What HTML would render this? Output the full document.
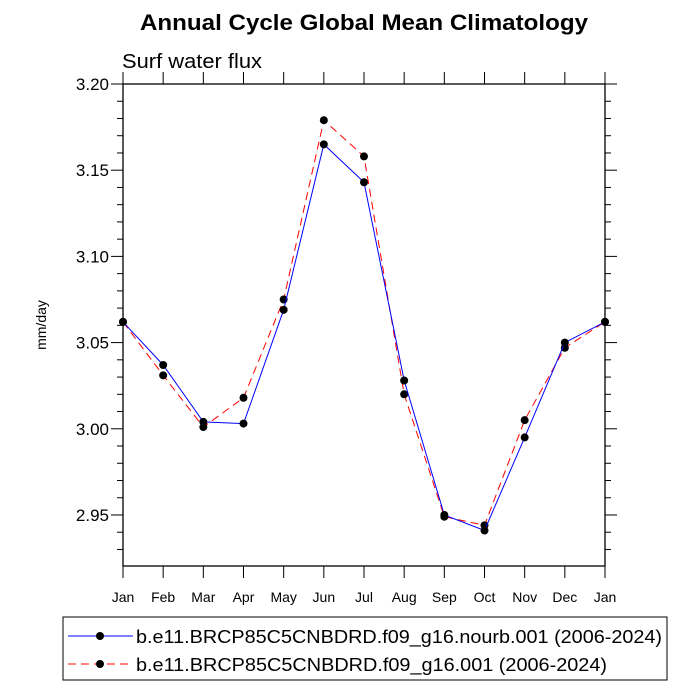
<!DOCTYPE html>
<html><head><meta charset="utf-8"><style>
body{margin:0;background:#fff;}
svg{display:block;font-family:"Liberation Sans",sans-serif;}
</style></head><body>
<svg id="chart" width="700" height="700">
<text x="140" y="30" textLength="448" lengthAdjust="spacingAndGlyphs" font-size="22" font-weight="bold">Annual Cycle Global Mean Climatology</text>
<text x="122" y="68" textLength="140" lengthAdjust="spacingAndGlyphs" font-size="20">Surf water flux</text>
<text transform="translate(46,325) rotate(-90)" text-anchor="middle" font-size="14">mm/day</text>
<g id="axes"></g>
<g id="series"></g>
<rect x="63" y="617" width="604" height="63" fill="none" stroke="#000" stroke-width="1"/>
<g>
<line x1="68" y1="636" x2="133" y2="636" stroke="#00f" stroke-width="1"/>
<circle cx="100" cy="636" r="4" fill="#000"/>
<text x="136" y="643" textLength="526" lengthAdjust="spacingAndGlyphs" font-size="18">b.e11.BRCP85C5CNBDRD.f09_g16.nourb.001 (2006-2024)</text>
</g>
<g>
<line x1="68" y1="664" x2="133" y2="664" stroke="#f00" stroke-width="1" stroke-dasharray="8,5"/>
<circle cx="100" cy="664" r="4" fill="#000"/>
<text x="136" y="671" textLength="471" lengthAdjust="spacingAndGlyphs" font-size="18">b.e11.BRCP85C5CNBDRD.f09_g16.001 (2006-2024)</text>
</g>
</svg>
<script>
const months=["Jan","Feb","Mar","Apr","May","Jun","Jul","Aug","Sep","Oct","Nov","Dec","Jan"];
const nourb=[3.062,3.037,3.004,3.003,3.069,3.165,3.143,3.028,2.950,2.941,2.995,3.050,3.062];
const control=[3.062,3.031,3.001,3.018,3.075,3.179,3.158,3.020,2.949,2.944,3.005,3.047,3.062];
const yTicks=[2.95,3.00,3.05,3.10,3.15,3.20];
const yTickLabels=["2.95","3.00","3.05","3.10","3.15","3.20"];
const NS="http://www.w3.org/2000/svg";
const L=123,R=605,T=84,B=566,yMin=2.9204,yMax=3.20;
const xs=i=>L+(R-L)*i/(months.length-1);
const ys=v=>B-(v-yMin)/(yMax-yMin)*(B-T);
function mk(tag,attrs,parent){const e=document.createElementNS(NS,tag);for(const k in attrs)e.setAttribute(k,attrs[k]);parent.appendChild(e);return e;}
const ax=document.getElementById('axes');
const frame=mk('rect',{x:L,y:T,width:R-L,height:B-T,fill:'none',stroke:'#000','stroke-width':1.3},ax);


months.forEach((m,i)=>{
 const x=xs(i);
 mk('line',{x1:x,y1:B,x2:x,y2:B+12,stroke:'#000'},ax);
 mk('line',{x1:x,y1:T,x2:x,y2:T-12,stroke:'#000'},ax);
 const t=mk('text',{x:x,y:B+36,'text-anchor':'middle','font-size':14},ax);
 t.textContent=m;
 
 
});
for(let v=2.93;v<=3.2001;v+=0.01){
 const y=ys(v);const major=Math.abs(Math.round(v*100)%5)===0;
 const len=major?12:6;
 mk('line',{x1:L,y1:y,x2:L-len,y2:y,stroke:'#000'},ax);
 mk('line',{x1:R,y1:y,x2:R+len,y2:y,stroke:'#000'},ax);
}
yTicks.forEach((v,i)=>{
 const t=mk('text',{x:L-14,y:ys(v)+6,'text-anchor':'end','font-size':17},ax);
 t.textContent=yTickLabels[i];
 
 
});
const sg=document.getElementById('series');
function draw(data,color,dash,name){
 const g=mk('g',{},sg);
 
 
 const pts=data.map((v,i)=>xs(i)+','+ys(v)).join(' ');
 const a={points:pts,fill:'none',stroke:color,'stroke-width':1};
 if(dash)a['stroke-dasharray']=dash;
 mk('polyline',a,g);
 data.forEach((v,i)=>{const c=mk('circle',{cx:xs(i),cy:ys(v),r:4,fill:'#000'},g);
  
  });
}
draw(control,'#f00','8,5','series-control');
draw(nourb,'#00f',null,'series-nourb');
</script>
</body></html>
